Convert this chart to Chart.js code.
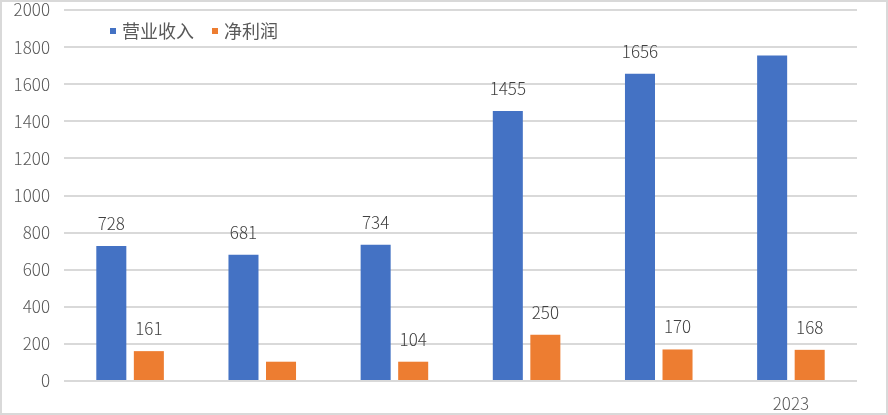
<!DOCTYPE html>
<html lang="zh">
<head>
  <meta charset="UTF-8" />
  <title>营业收入与净利润</title>
  <script src="https://cdn.jsdelivr.net/npm/chart.js"></script>
  <style>
    html, body { margin: 0; padding: 0; background: #fff; }
    #wrap { width: 888px; height: 415px; position: relative; }
  </style>
</head>
<body>
  <div id="wrap"><canvas id="finChart"></canvas></div>

  <script>
    // years: the first five labels are blanked out in the source picture
    const categories = ['', '', '', '', '', '2023'];
    const revenue = [728, 681, 734, 1455, 1656, 1755];
    const profit = [161, 104, 104, 250, 170, 168];
    // which value labels are visible in the source
    const revenueShown = [true, true, true, true, true, false];
    const profitShown = [true, false, true, true, true, true];
    const yTicks = [0, 200, 400, 600, 800, 1000, 1200, 1400, 1600, 1800, 2000];

    const BLUE = '#4472C4';
    const ORANGE = '#ED7D31';
    const TEXT = '#595959';
    const FONT = "'Noto Sans CJK SC', 'Noto Sans', sans-serif";

    // frame + value labels + legend inside the plot
    const decorPlugin = {
      id: 'decor',
      beforeDraw(chart) {
        const ctx = chart.ctx;
        ctx.save();
        ctx.fillStyle = '#fff';
        ctx.fillRect(0, 0, chart.width, chart.height);
        ctx.restore();
      },
      afterDraw(chart) {
        const ctx = chart.ctx;
        ctx.save();
        // value labels
        ctx.font = '300 17px ' + FONT;
        ctx.fillStyle = '#404040';
        ctx.textAlign = 'center';
        ctx.textBaseline = 'alphabetic';
        const shown = [revenueShown, profitShown];
        chart.data.datasets.forEach((ds, di) => {
          chart.getDatasetMeta(di).data.forEach((bar, i) => {
            if (!shown[di][i]) return;
            ctx.fillText(String(ds.data[i]), bar.x, bar.y - 16);
          });
        });

        // legend
        const area = chart.chartArea;
        let x = area.left + 46;
        const y = area.top + 21;
        ctx.font = '18px ' + FONT;
        ctx.textAlign = 'left';
        ctx.textBaseline = 'middle';
        chart.data.datasets.forEach(ds => {
          ctx.fillStyle = ds.backgroundColor;
          ctx.fillRect(x, y - 3, 6, 6);
          ctx.fillStyle = TEXT;
          ctx.fillText(ds.label, x + 12, y);
          x += 12 + ctx.measureText(ds.label).width + 18;
        });

        // light frame round the picture
        ctx.strokeStyle = '#d9d9d9';
        ctx.lineWidth = 2;
        ctx.strokeRect(1, 1, chart.width - 2, chart.height - 2);
        ctx.restore();
      }
    };

    const ctx = document.getElementById('finChart').getContext('2d');
    new Chart(ctx, {
      type: 'bar',
      data: {
        labels: categories,
        datasets: [
          { label: '营业收入', data: revenue, backgroundColor: BLUE },
          { label: '净利润', data: profit, backgroundColor: ORANGE }
        ]
      },
      options: {
        responsive: true,
        maintainAspectRatio: false,
        animation: false,
        datasets: {
          bar: { categoryPercentage: 0.568, barPercentage: 0.8 }
        },
        layout: { padding: { left: 0, right: 31, top: 10, bottom: 0 } },
        plugins: {
          legend: { display: false },
          tooltip: { enabled: false }
        },
        scales: {
          x: {
            grid: { display: false },
            border: { display: false },
            ticks: { color: TEXT, font: { family: FONT, size: 17, weight: 300 }, padding: 4 },
            afterFit(scale) { scale.height = 34; }
          },
          y: {
            min: 0,
            max: 2000,
            afterBuildTicks(scale) { scale.ticks = yTicks.map(v => ({ value: v })); },
            grid: { color: '#d9d9d9', lineWidth: 2, drawTicks: false },
            border: { display: false },
            ticks: {
              color: TEXT,
              font: { family: FONT, size: 17, weight: 300 },
              padding: 14,
              callback: v => String(v)
            },
            afterFit(scale) {
              scale.width = 64;
              scale.paddingTop = 0;
              scale.paddingBottom = 0;
            }
          }
        }
      },
      plugins: [decorPlugin]
    });
  </script>
</body>
</html>
